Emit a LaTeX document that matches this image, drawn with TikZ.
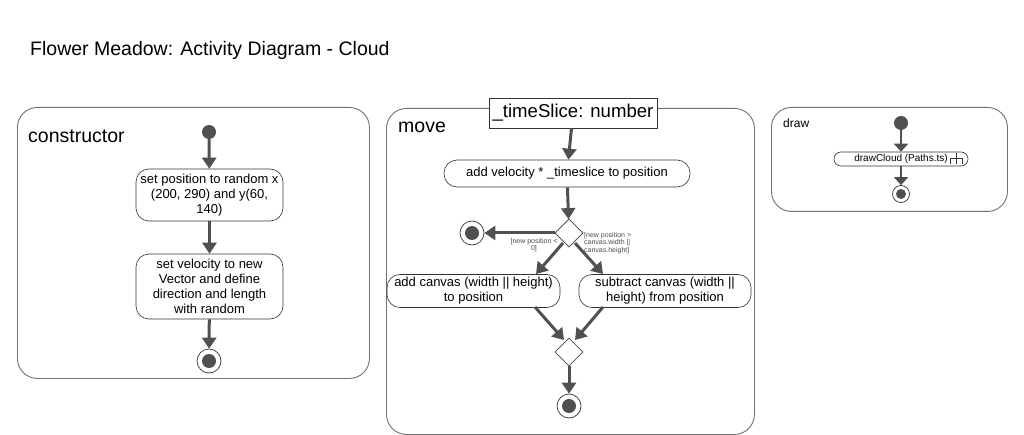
\documentclass[tikz,border=0pt]{standalone}
\usepackage{fontspec}
\setmainfont{Liberation Sans}
\usetikzlibrary{arrows.meta,shapes.geometric}
\definecolor{arr}{HTML}{505050}
\definecolor{frm}{HTML}{707070}
\tikzset{
  frame/.style={draw=frm, line width=0.9pt, rounded corners=20pt, anchor=north west, inner sep=0pt},
  act/.style={draw=black!80, line width=0.6pt, rounded corners=13pt, align=center, font=\fontsize{13}{15}\selectfont, inner sep=0pt},
  flow/.style={draw=arr, line width=3pt, -{Triangle[width=14pt,length=11pt]}},
  smallflow/.style={draw=arr, line width=2.5pt, -{Triangle[width=14pt,length=8pt]}},
  startdot/.style={circle, fill=arr, minimum size=14pt, inner sep=0pt},
  enddot/.style={circle, draw=black!80, line width=0.7pt, fill=white, minimum size=24pt, inner sep=0pt, path picture={\fill[arr] (path picture bounding box.center) circle (7pt);}},
  dec/.style={diamond, draw=black!70, line width=0.7pt, fill=white, minimum size=28pt, inner sep=0pt},
  guard/.style={font=\fontsize{7}{7.5}\selectfont, text=black!70, inner sep=0pt},
  big/.style={font=\fontsize{19.5}{22}\selectfont}
}
\begin{document}
\begin{tikzpicture}[x=1pt,y=-1pt]
\useasboundingbox (0,0) rectangle (1024,435);
\node[big, anchor=west, inner sep=0pt] (title) at (30,50) {Flower Meadow: Activity Diagram - Cloud};

% constructor
\node[frame, minimum width=352pt, minimum height=271pt] (cframe) at (17,107) {};
\node[big, anchor=west, inner sep=0pt] (clabel) at (28,136) {constructor};
\node[startdot] (cs) at (209,132) {};
\node[act, minimum width=147pt, minimum height=52pt] (c1) at (209.5,195) {set position to random x\\(200, 290) and y(60,\\140)};
\node[act, minimum width=147pt, minimum height=65pt] (c2) at (209.5,286.5) {set velocity to new\\Vector and define\\direction and length\\with random};
\node[enddot] (ce) at (209,361) {};
\draw[flow] (cs) -- (c1);
\draw[flow] (c1) -- (c2);
\draw[flow] (c2) -- (ce);

% move
\node[frame, minimum width=368pt, minimum height=326pt] (mframe) at (386,108) {};
\node[big, anchor=west, inner sep=0pt] (mlabel) at (398,127) {move};
\node[font=\fontsize{18.6}{21}\selectfont, draw=black!80, fill=white, line width=0.7pt, minimum width=168pt, minimum height=30pt, inner sep=0pt] (param) at (573,113) {\_timeSlice: number};
\node[act, minimum width=246pt, minimum height=27pt] (m1) at (567,173.5) {add velocity * \_timeslice to position};
\node[dec] (d1) at (569,233) {};
\node[enddot] (me1) at (472,233) {};
\node[act, minimum width=173pt, minimum height=33pt] (ml) at (473.5,291) {add canvas (width || height)\\ to position};
\node[act, minimum width=172pt, minimum height=33pt] (mr) at (665,291) {subtract canvas (width ||\\ height) from position};
\node[dec] (d2) at (569,352) {};
\node[enddot] (me2) at (569,406) {};
\coordinate (dl) at (563,243);
\coordinate (dr) at (575,243);
\coordinate (mlb) at (535,307);
\coordinate (mrb) at (603,307);
\coordinate (mlt) at (536,274);
\coordinate (mrt) at (603,274);
\coordinate (d2l) at (564,340);
\coordinate (d2r) at (575,340);
\draw[flow] (param) -- (m1);
\draw[flow] (m1) -- (d1);
\draw[flow] (d1) -- (me1);
\draw[flow] (dl) -- (mlt);
\draw[flow] (dr) -- (mrt);
\draw[flow] (mlb) -- (d2l);
\draw[flow] (mrb) -- (d2r);
\draw[flow] (d2) -- (me2);
\node[dec] at (d1) {};
\node[guard, align=center] (g1) at (534,245) {[new position <\\0]};
\node[guard, align=left, anchor=west] (g2) at (584,243) {[new position >\\canvas.width ||\\canvas.height]};

% draw
\node[frame, minimum width=236pt, minimum height=104pt] (dframe) at (771,107) {};
\node[font=\fontsize{12}{14}\selectfont, anchor=west, inner sep=0pt] (dlabel) at (783,123) {draw};
\node[startdot] (ds) at (901,123) {};
\node[draw=black!80, line width=0.6pt, rounded corners=7pt, minimum width=134pt, minimum height=14pt, inner sep=0pt, font=\fontsize{10}{11}\selectfont] (d1a) at (901,159) {drawCloud (Paths.ts)};
\draw[black!80, line width=0.6pt] ([xshift=-18pt,yshift=1pt]d1a.east) -- ([xshift=-6pt,yshift=1pt]d1a.east)
  ([xshift=-12pt,yshift=-1pt]d1a.north east) -- ([xshift=-12pt,yshift=2pt]d1a.south east)
  ([xshift=-18pt,yshift=1pt]d1a.east) -- ([xshift=-18pt,yshift=2pt]d1a.south east)
  ([xshift=-6pt,yshift=1pt]d1a.east) -- ([xshift=-6pt,yshift=2pt]d1a.south east);
\node[enddot, minimum size=17pt, path picture={\fill[arr] (path picture bounding box.center) circle (5pt);}] (de) at (901,194) {};
\draw[smallflow] (ds) -- (d1a);
\draw[smallflow] (d1a) -- (de);
\end{tikzpicture}
\end{document}
